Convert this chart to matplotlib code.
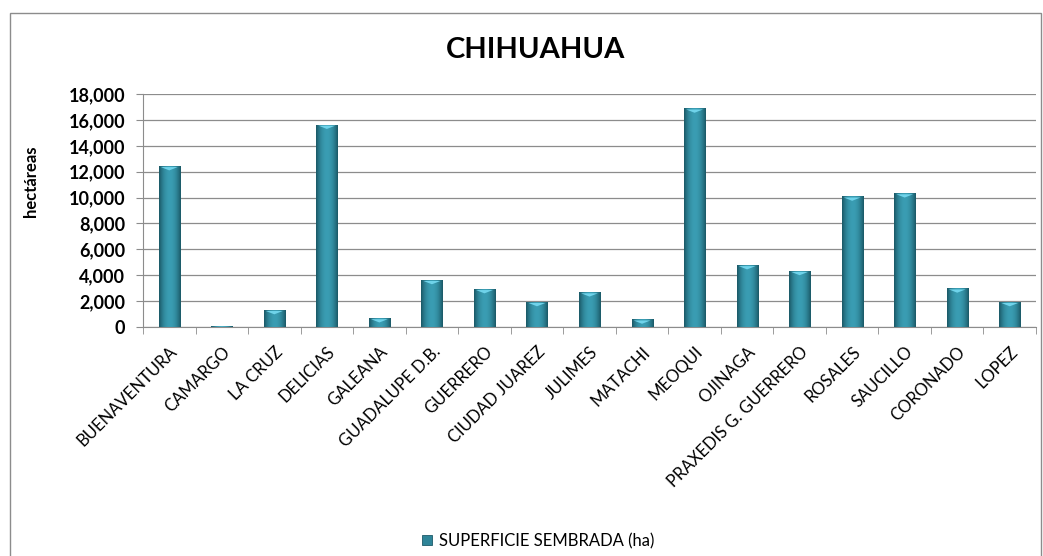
import matplotlib
matplotlib.use("Agg")
import matplotlib.pyplot as plt
import numpy as np
from matplotlib.ticker import FuncFormatter, FixedLocator
from matplotlib.colors import LinearSegmentedColormap
import matplotlib.transforms as mtransforms

municipios = ["BUENAVENTURA", "CAMARGO", "LA CRUZ", "DELICIAS", "GALEANA",
              "GUADALUPE D.B.", "GUERRERO", "CIUDAD JUAREZ", "JULIMES", "MATACHI",
              "MEOQUI", "OJINAGA", "PRAXEDIS G. GUERRERO", "ROSALES", "SAUCILLO",
              "CORONADO", "LOPEZ"]
superficie = [12400, 30, 1280, 15600, 650, 3600, 2900, 1900, 2650, 550,
              16850, 4750, 4300, 10050, 10300, 2950, 1900]

plt.rcParams['font.family'] = ['Lato', 'DejaVu Sans']

fig = plt.figure(figsize=(10.43, 5.56), dpi=100)
ax = fig.add_axes([143/1043, 1 - 327/556, (1036-143)/1043, (327-94)/556])

x = np.arange(len(municipios))
bars = ax.bar(x, superficie, width=0.4, color="#2E8498", edgecolor="#1d5a68",
              linewidth=0.6, zorder=3, label="SUPERFICIE SEMBRADA (ha)")

# horizontal shading to mimic the cylinder look
grad = np.linspace(-1, 1, 64)
shade = 1 - np.abs(grad) ** 2
cmap = LinearSegmentedColormap.from_list("bar", ["#1a5866", "#3a9db3"])
for b in bars:
    bx, bw, bh = b.get_x(), b.get_width(), b.get_height()
    if bh <= 0:
        continue
    ax.imshow(shade[np.newaxis, :], extent=(bx, bx + bw, 0, bh), aspect="auto",
              cmap=cmap, zorder=3.5)
    cap = min(bh, 300)
    ax.fill([bx + bw * 0.1, bx + bw * 0.9, bx + bw * 0.5],
            [bh - cap * 0.15, bh - cap * 0.15, bh - cap],
            color="#6fd3ea", zorder=4, lw=0)

ax.set_xlim(-0.5, len(municipios) - 0.5)
ax.set_ylim(0, 18000)
ax.set_yticks(np.arange(0, 18001, 2000))
ax.yaxis.set_major_formatter(FuncFormatter(lambda v, p: f"{int(v):,}"))
ax.grid(axis="y", color="#8c8c8c", linewidth=0.9, zorder=0)
ax.set_axisbelow(True)

ax.set_xticks(x)
ax.set_xticklabels(municipios, rotation=45, ha="right", rotation_mode="anchor",
                   fontsize=12)
offset = mtransforms.ScaledTranslation(1/100, 0, fig.dpi_scale_trans)
for lbl in ax.get_xticklabels():
    lbl.set_transform(lbl.get_transform() + offset)
ax.tick_params(axis="x", length=0, pad=12)
ax.xaxis.set_minor_locator(FixedLocator(np.arange(-0.5, len(municipios), 1)))
ax.tick_params(axis="x", which="minor", length=5, color="#8c8c8c")
ax.tick_params(axis="y", length=5, color="#8c8c8c", labelsize=13, pad=8)
for lbl in ax.get_yticklabels():
    lbl.set_fontweight("bold")

for s in ["top", "right"]:
    ax.spines[s].set_visible(False)
ax.spines["left"].set_color("#8c8c8c")
ax.spines["bottom"].set_color("#8c8c8c")

ax.set_ylabel("hectáreas", fontsize=12, fontweight="bold")
ax.yaxis.set_label_coords(-0.116, 0.627)
fig.text(536/1043, 1 - 50/556, "CHIHUAHUA", ha="center", va="center",
         fontsize=21, fontweight="bold")

fig.legend(handles=[bars], loc="center", bbox_to_anchor=(538/1043, 1 - 541/556),
           frameon=False, fontsize=12, handlelength=0.6, handleheight=0.6,
           handletextpad=0.4)

border = plt.Rectangle((10/1043, -0.01), 1031/1043, 1 - 13/556 + 0.01,
                       transform=fig.transFigure, fill=False,
                       edgecolor="#8c8c8c", linewidth=1)
fig.patches.append(border)

fig.savefig("out.png", dpi=100)
